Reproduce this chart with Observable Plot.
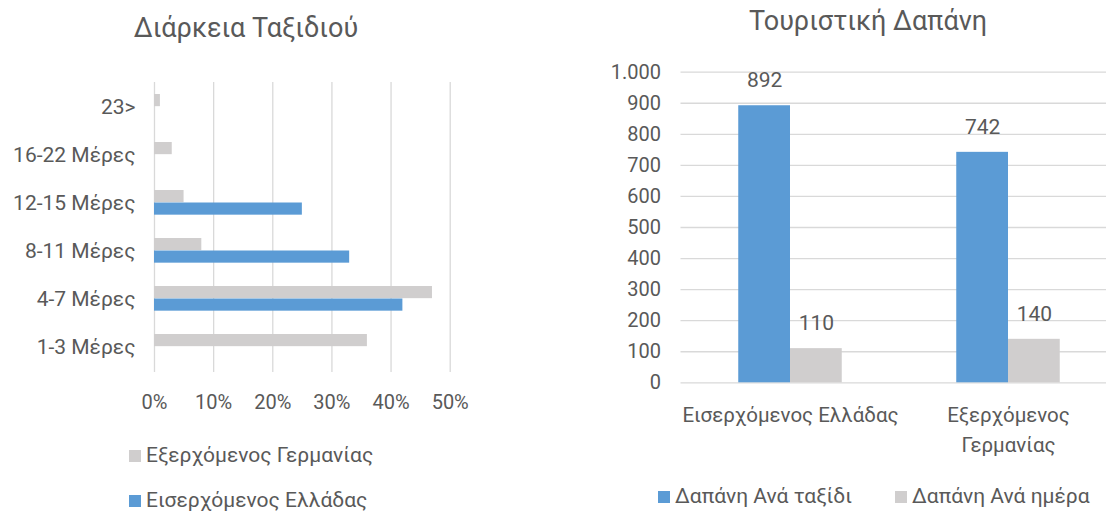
<!DOCTYPE html>
<html>
<head>
<meta charset="utf-8">
<script src="https://cdn.jsdelivr.net/npm/d3@7"></script>
<script src="https://cdn.jsdelivr.net/npm/@observablehq/plot@0.6"></script>
<style>
  html, body { margin: 0; padding: 0; background: #fff; }
  #root { position: relative; width: 1106px; height: 512px; overflow: hidden; font-family: Roboto, sans-serif; color: #595959; }
  .abs { position: absolute; white-space: nowrap; }
  .title { font-size: 27px; transform: translateX(-50%); line-height: 1.2; }
  .leg { font-size: 21px; display: flex; align-items: center; line-height: 1.2; }
  .sw { width: 12px; height: 12px; display: inline-block; margin-right: 5px; }
  svg { overflow: visible; }
</style>
</head>
<body>
<div id="root"></div>
<script>
// ---- Data: left chart (Διάρκεια Ταξιδιού)
const durationCats = ["23>", "16-22 Μέρες", "12-15 Μέρες", "8-11 Μέρες", "4-7 Μέρες", "1-3 Μέρες"];
const outGermany = [0.01, 0.03, 0.05, 0.08, 0.47, 0.36];
const inGreece = [0, 0, 0.25, 0.33, 0.42, 0];
const pctTicks = [0, 0.1, 0.2, 0.3, 0.4, 0.5];
const durationSeries = ["Εξερχόμενος Γερμανίας", "Εισερχόμενος Ελλάδας"];

// ---- Data: right chart (Τουριστική Δαπάνη)
const spendCats = ["Εισερχόμενος Ελλάδας", "Εξερχόμενος Γερμανίας"];
const spendTickLabels = ["Εισερχόμενος Ελλάδας", "Εξερχόμενος\nΓερμανίας"];
const perTrip = [892, 742];
const perDay = [110, 140];
const spendTicks = [0, 100, 200, 300, 400, 500, 600, 700, 800, 900, 1000];
const spendSeries = ["Δαπάνη Ανά ταξίδι", "Δαπάνη Ανά ημέρα"];

const BLUE = "#5B9BD5", GRAY = "#D0CECE", GRID = "#D9D9D9", TEXT = "#595959";
const root = document.getElementById("root");

function place(el, x, y) { el.style.position = "absolute"; el.style.left = x + "px"; el.style.top = y + "px"; root.appendChild(el); return el; }
function div(cls, html, x, y) { const d = document.createElement("div"); d.className = "abs " + cls; d.innerHTML = html; d.style.left = x + "px"; d.style.top = y + "px"; root.appendChild(d); return d; }

// ---------- Left chart
const durRows = durationCats.map((c, i) => ({cat: c, de: outGermany[i], gr: inGreece[i]}));
const bandH = 290 / 6;
const left = Plot.plot({
  width: 500, height: 420,
  marginTop: 82, marginBottom: 48, marginLeft: 154, marginRight: 50.3,
  style: {fontFamily: "Roboto, sans-serif", fontSize: "20px", color: TEXT, background: "transparent"},
  x: {domain: [0, 0.5], ticks: pctTicks, tickFormat: d3.format(".0%"), tickSize: 0, tickPadding: 22, label: null},
  y: {domain: durationCats, padding: 0, label: null},
  marks: [
    Plot.ruleX(pctTicks, {stroke: GRID, strokeWidth: 1.3}),
    Plot.barX(durRows, {y: "cat", x: "de", fill: GRAY, insetTop: 11, insetBottom: bandH - 23.5}),
    Plot.barX(durRows, {y: "cat", x: "gr", fill: BLUE, insetTop: 23.5, insetBottom: bandH - 36}),
    Plot.axisY({tickSize: 0, tickPadding: 19, fontSize: 21, label: null})
  ]
});
place(left, 0, 0);

div("title", "Διάρκεια Ταξιδιού", 246, 12);
div("leg", `<span class="sw" style="background:${GRAY}"></span>${durationSeries[0]}`, 129, 443);
div("leg", `<span class="sw" style="background:${BLUE}"></span>${durationSeries[1]}`, 129, 488);

// ---------- Right chart
const spendRows = spendCats.map((c, i) => ({cat: c, trip: perTrip[i], day: perDay[i]}));
const half = 109, barW = 51.75;
const fmt = d3.formatLocale({decimal: ",", thousands: ".", grouping: [3], currency: ["", "€"]}).format(",");
const right = Plot.plot({
  width: 530, height: 472,
  marginTop: 71.7, marginBottom: 89.7, marginLeft: 90.5, marginRight: 3.5,
  style: {fontFamily: "Roboto, sans-serif", fontSize: "20px", color: TEXT, background: "transparent"},
  x: {domain: spendCats, padding: 0, label: null},
  y: {domain: [0, 1000], ticks: spendTicks, tickFormat: fmt, tickSize: 0, tickPadding: 20, label: null},
  marks: [
    Plot.ruleY(spendTicks, {stroke: GRID, strokeWidth: 1.3}),
    Plot.barY(spendRows, {x: "cat", y: "trip", fill: BLUE, insetLeft: half - barW, insetRight: half}),
    Plot.barY(spendRows, {x: "cat", y: "day", fill: GRAY, insetLeft: half, insetRight: half - barW}),
    Plot.text(spendRows, {x: "cat", y: "trip", text: d => fmt(d.trip), dx: -barW / 2, dy: -25, fill: TEXT, fontSize: 21}),
    Plot.text(spendRows, {x: "cat", y: "day", text: d => fmt(d.day), dx: barW / 2, dy: -25, fill: TEXT, fontSize: 21}),
    Plot.axisX({tickSize: 0, tickPadding: 18, lineHeight: 1.45, fontSize: 20.5, label: null,
      tickFormat: d => spendTickLabels[spendCats.indexOf(d)]})
  ]
});
place(right, 590, 0);

div("title", "Τουριστική Δαπάνη", 868, 5);
div("leg", `<span class="sw" style="background:${BLUE}"></span>${spendSeries[0]}`, 658, 484);
div("leg", `<span class="sw" style="background:${GRAY}"></span>${spendSeries[1]}`, 895, 484);
</script>
</body>
</html>
